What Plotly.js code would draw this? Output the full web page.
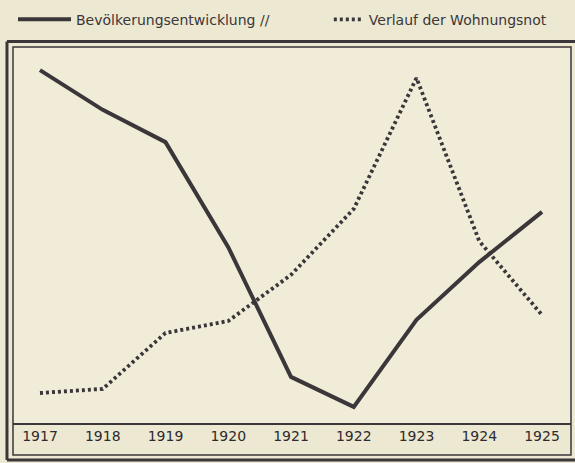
<!DOCTYPE html>
<html>
<head>
<meta charset="utf-8">
<script src="https://cdn.plot.ly/plotly-3.0.1.min.js"></script>
<style>
  html, body { margin: 0; padding: 0; background: #ece8d2; }
  #chart { width: 575px; height: 463px; }
</style>
</head>
<body>
<div id="chart"></div>
<script>
// Data (arbitrary relative scale 0–100, no y-axis shown)
const years = [1917, 1918, 1919, 1920, 1921, 1922, 1923, 1924, 1925];
const yearLabels = ["1917", "1918", "1919", "1920", "1921", "1922", "1923", "1924", "1925"];
const bevoelkerung = [94.1, 83.5, 74.9, 46.9, 12.3, 4.3, 27.5, 42.9, 56.3];
const wohnungsnot = [8.0, 9.1, 24.0, 27.2, 39.5, 57.1, 92.0, 48.5, 28.8];
const seriesNames = ["Bevölkerungsentwicklung //", "Verlauf der Wohnungsnot"];

const ink = "#3b3639";

const traces = [
  {
    x: years, y: bevoelkerung, name: seriesNames[0],
    type: "scatter", mode: "lines",
    line: { color: ink, width: 4 },
    legend: "legend",
    hoverinfo: "skip"
  },
  {
    x: years, y: wohnungsnot, name: seriesNames[1],
    type: "scatter", mode: "lines",
    line: { color: ink, width: 3.8, dash: "3px,3px" },
    legend: "legend2",
    hoverinfo: "skip"
  }
];

const legendFont = { size: 14, color: ink, family: "DejaVu Sans" };
const layout = {
  width: 575, height: 463,
  margin: { l: 13, r: 4, t: 48, b: 40, pad: 0 },
  paper_bgcolor: "#ece8d2",
  plot_bgcolor: "#f0ecd8",
  font: { family: "DejaVu Sans", color: ink },
  showlegend: true,
  legend: {
    orientation: "h", x: 0.0, xanchor: "left", y: 1.118, yanchor: "top",
    bgcolor: "rgba(0,0,0,0)", font: legendFont, itemwidth: 53
  },
  legend2: {
    orientation: "h", x: 0.566, xanchor: "left", y: 1.118, yanchor: "top",
    bgcolor: "rgba(0,0,0,0)", font: legendFont, itemwidth: 30
  },
  xaxis: {
    range: [1916.570, 1925.462], tickvals: years, ticktext: yearLabels,
    ticks: "", showgrid: false, zeroline: false, showline: true,
    linecolor: ink, linewidth: 1.5,
    tickfont: { size: 14, color: "#2f2a2d", family: "DejaVu Sans" }, fixedrange: true
  },
  yaxis: {
    range: [0, 100], visible: false, showgrid: false, zeroline: false, fixedrange: true
  },
  shapes: [
    // inner thin frame (including the tick-label band)
    { type: "rect", xref: "paper", yref: "paper", x0: 0, x1: 1, y0: -0.0853, y1: 1.0027,
      line: { color: ink, width: 1.5 }, layer: "above" },
    // outer thick frame: top, left, bottom
    { type: "line", xref: "paper", yref: "paper", x0: -0.0108, x1: 1.01, y0: 1.0173, y1: 1.0173,
      line: { color: ink, width: 3 }, layer: "above" },
    { type: "line", xref: "paper", yref: "paper", x0: -0.0108, x1: -0.0108, y0: -0.0987, y1: 1.0173,
      line: { color: ink, width: 3 }, layer: "above" },
    { type: "line", xref: "paper", yref: "paper", x0: -0.0108, x1: 1.01, y0: -0.0987, y1: -0.0987,
      line: { color: ink, width: 3 }, layer: "above" }
  ]
};

Plotly.newPlot("chart", traces, layout, { displayModeBar: false, staticPlot: true });
</script>
</body>
</html>
